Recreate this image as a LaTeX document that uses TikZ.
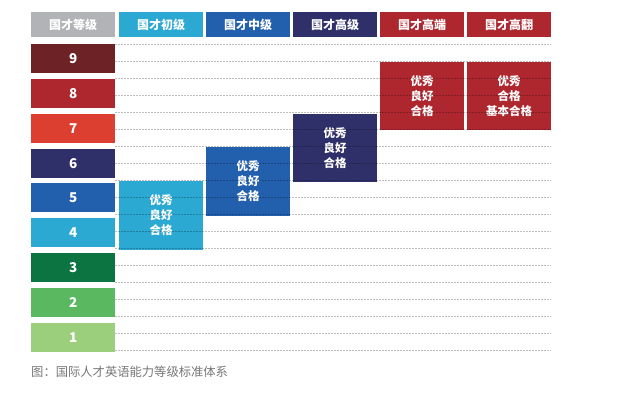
\documentclass[tikz,border=0pt]{standalone}
\usepackage{fontspec}
\setmainfont{Noto Sans CJK SC}
\usepackage{tikz}
\usetikzlibrary{positioning}

\definecolor{hdrgray}{RGB}{177, 179, 182}
\definecolor{lvnine}{RGB}{109, 35, 38}
\definecolor{lveight}{RGB}{174, 39, 47}
\definecolor{lvseven}{RGB}{220, 62, 47}
\definecolor{lvsix}{RGB}{47, 47, 106}
\definecolor{lvfive}{RGB}{34, 96, 174}
\definecolor{lvfour}{RGB}{43, 169, 211}
\definecolor{lvthree}{RGB}{11, 116, 64}
\definecolor{lvtwo}{RGB}{90, 185, 96}
\definecolor{lvone}{RGB}{156, 207, 124}
\definecolor{capgray}{RGB}{118, 118, 118}

\tikzset{
  cell/.style={anchor=north west, inner sep=0pt, minimum width=84pt, text=white, font=\bfseries\fontsize{12}{14}\selectfont},
  header/.style={cell, minimum height=25pt},
  levelbox/.style={cell, minimum height=29pt, font=\bfseries\fontsize{13.5}{15}\selectfont},
  gradebox/.style={cell, minimum height=68.5pt, align=center, font=\bfseries\fontsize{11.5}{15}\selectfont},
  gridline/.style={black, opacity=0.25, line width=0.5pt, dash pattern=on 2pt off 1pt}
}

\begin{document}
\begin{tikzpicture}[x=1pt, y=-1pt]
  \useasboundingbox (0,0) rectangle (637,403);

  % header row
  \node[header, fill=hdrgray] (hlevel) at (31,12) {国才等级};
  \node[header, fill=lvfour] (hbasic) at (119,12) {国才初级};
  \node[header, fill=lvfive] (hinter) at (206,12) {国才中级};
  \node[header, fill=lvsix] (hadv) at (293,12) {国才高级};
  \node[header, fill=lveight] (hpro) at (380,12) {国才高端};
  \node[header, fill=lveight] (htrans) at (467,12) {国才高翻};

  % level column
  \node[levelbox, fill=lvnine] (lnine) at (31,44) {9};
  \node[levelbox, fill=lveight] (leight) at (31,79) {8};
  \node[levelbox, fill=lvseven] (lseven) at (31,113.5) {7};
  \node[levelbox, fill=lvsix] (lsix) at (31,148.5) {6};
  \node[levelbox, fill=lvfive] (lfive) at (31,183) {5};
  \node[levelbox, fill=lvfour] (lfour) at (31,218) {4};
  \node[levelbox, fill=lvthree] (lthree) at (31,253) {3};
  \node[levelbox, fill=lvtwo] (ltwo) at (31,288) {2};
  \node[levelbox, fill=lvone] (lone) at (31,323) {1};

  % grade boxes
  \node[gradebox, fill=lvfour] (gbasic) at (119,181) {优秀\\良好\\合格};
  \node[gradebox, fill=lvfive] (ginter) at (206,147) {优秀\\良好\\合格};
  \node[gradebox, fill=lvsix] (gadv) at (293,113.5) {优秀\\良好\\合格};
  \node[gradebox, fill=lveight] (gpro) at (380,61.5) {优秀\\良好\\合格};
  \node[gradebox, fill=lveight] (gtrans) at (467,61.5) {优秀\\合格\\基本合格};

  % dashed grid
  \foreach \i in {0,...,18}
    \draw[gridline] (115,44.7+\i*16.96) -- (551,44.7+\i*16.96);

  \node[anchor=west, inner sep=0pt, text=capgray, font=\fontsize{12.3}{14}\selectfont] (caption) at (31,372) {图：国际人才英语能力等级标准体系};
\end{tikzpicture}
\end{document}
